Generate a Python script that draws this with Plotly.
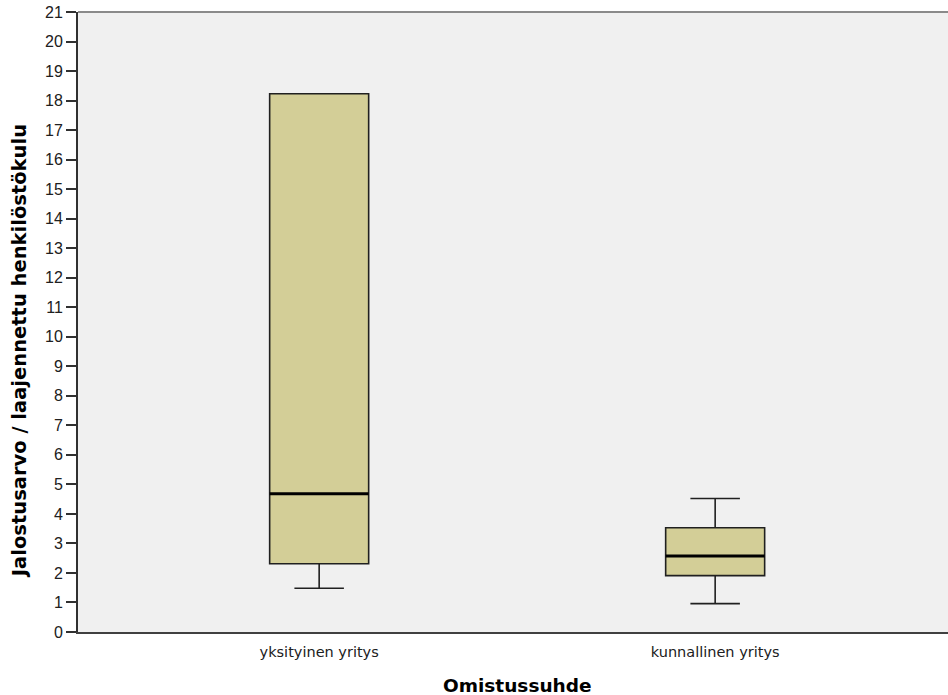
import plotly.graph_objects as go

# Box plot statistics per ownership type
categories = ["yksityinen yritys", "kunnallinen yritys"]
lower_whisker = [1.48, 0.96]
q1_values = [2.31, 1.91]
medians = [4.68, 2.57]
q3_values = [18.23, 3.53]
upper_whisker = [18.23, 4.52]
y_ticks = list(range(0, 22))

x_title = "Omistussuhde"
y_title = "Jalostusarvo / laajennettu henkilöstökulu"

BOX_WIDTH = 0.25
SANS = "Liberation Sans, Arial, sans-serif"
WIDE = "DejaVu Sans, Verdana, sans-serif"

fig = go.Figure()

fig.add_trace(go.Box(
    x=[0, 1],
    q1=q1_values,
    median=medians,
    q3=q3_values,
    lowerfence=lower_whisker,
    upperfence=upper_whisker,
    width=BOX_WIDTH,
    whiskerwidth=0.5,
    fillcolor="#D3CE97",
    line=dict(color="#202020", width=1.6),
    boxpoints=False,
    hoverinfo="skip",
    showlegend=False,
))

# Heavier median bars drawn on top of each box
for i, m in enumerate(medians):
    fig.add_trace(go.Scatter(
        x=[i - BOX_WIDTH / 2, i + BOX_WIDTH / 2],
        y=[m, m],
        mode="lines",
        line=dict(color="black", width=3),
        hoverinfo="skip",
        showlegend=False,
    ))

fig.update_layout(
    width=948,
    height=695,
    margin=dict(l=78, r=0, t=12, b=63),
    paper_bgcolor="white",
    plot_bgcolor="#F0F0F0",
    font=dict(family=SANS, color="black"),
    xaxis=dict(
        range=[-0.609, 1.588],
        tickmode="array",
        tickvals=[0, 1],
        ticktext=categories,
        tickfont=dict(family=WIDE, size=14.5, color="#202020"),
        ticks="",
        ticklabelstandoff=6,
        showgrid=False,
        zeroline=False,
        showline=True,
        linecolor="#404040",
        linewidth=2,
    ),
    yaxis=dict(
        range=[0, 21],
        tickmode="array",
        tickvals=y_ticks,
        ticktext=[str(v) for v in y_ticks],
        tickfont=dict(size=16, color="#202020"),
        ticks="outside",
        ticklen=10,
        tickwidth=2,
        tickcolor="#303030",
        showgrid=False,
        zeroline=False,
        showline=True,
        linecolor="#303030",
        linewidth=2,
    ),
    shapes=[dict(type="line", xref="paper", yref="paper", x0=0, x1=1, y0=1, y1=1,
                 line=dict(color="#8A8A8A", width=2))],
    annotations=[
        dict(text=f"<b>{x_title}</b>", xref="paper", yref="paper",
             x=0.5, y=0, xanchor="center", yanchor="middle", yshift=-53, xshift=4,
             showarrow=False, font=dict(family=WIDE, size=18.5)),
        dict(text=f"<b>{y_title}</b>", xref="paper", yref="paper",
             x=0, y=0.453, xanchor="center", yanchor="middle", xshift=-59,
             textangle=-90, showarrow=False, font=dict(family=WIDE, size=19.5)),
    ],
)

fig.write_html("out.html")
